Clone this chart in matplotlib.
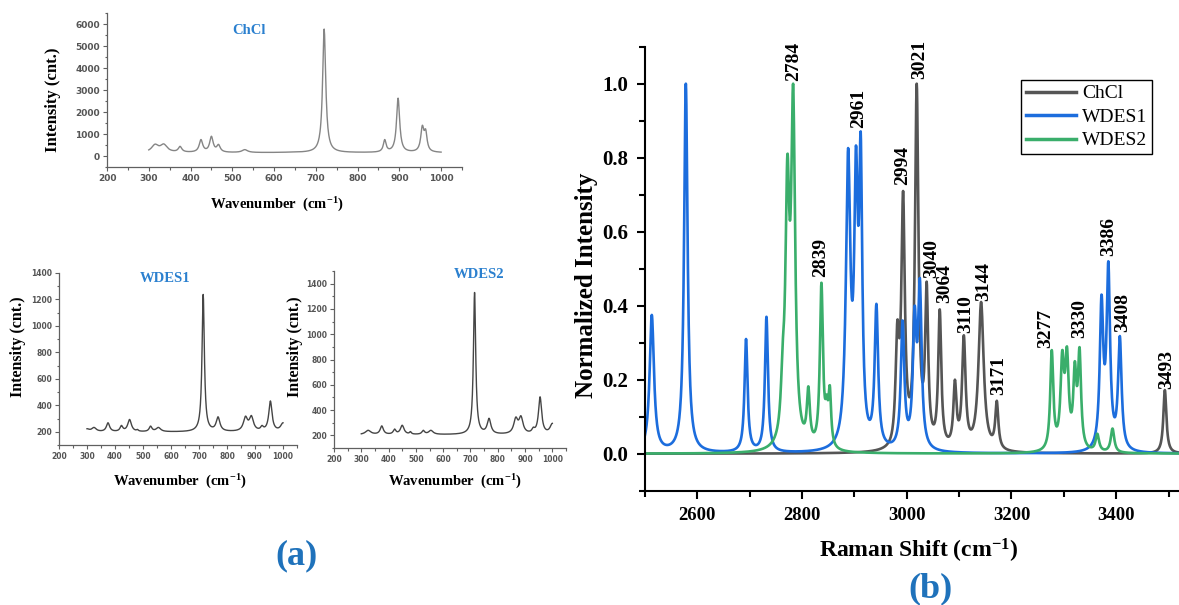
import numpy as np
import matplotlib
matplotlib.use("Agg")
import matplotlib.pyplot as plt
from matplotlib.ticker import MultipleLocator

plt.rcParams['font.family'] = ['Liberation Serif', 'DejaVu Serif']
plt.rcParams['mathtext.fontset'] = 'custom'
plt.rcParams['mathtext.rm'] = 'Liberation Serif'
plt.rcParams['mathtext.bf'] = 'Liberation Serif:bold'
plt.rcParams['mathtext.default'] = 'bf'

# ---------------- data: panel (a) low-wavenumber spectra (peak lists) ----------------
chcl_a_base = 150
chcl_a_centers = [315, 336, 375, 425, 450, 467, 530, 640, 720, 865, 897, 955, 963]
chcl_a_heights = [390, 400, 290, 600, 750, 380, 140, 30, 5620, 600, 2480, 1250, 1080]
chcl_a_widths = [10, 10, 5, 5, 5, 5, 8, 25, 4.5, 4, 4.5, 4.5, 4]

wdes1_a_base = 198
wdes1_a_centers = [300, 325, 375, 423, 452, 480, 527, 555, 715, 768, 866, 887, 925, 955, 1000]
wdes1_a_heights = [25, 35, 70, 50, 95, 20, 45, 35, 1040, 115, 120, 125, 50, 235, 70]
wdes1_a_widths = [10, 10, 7, 6, 8, 4, 6, 10, 5, 8, 9, 9, 6, 7, 10]

wdes2_a_base = 205
wdes2_a_centers = [325, 375, 422, 450, 480, 527, 555, 715, 768, 866, 885, 930, 955, 1000]
wdes2_a_heights = [35, 70, 45, 75, 25, 35, 35, 1125, 130, 140, 150, 60, 300, 90]
wdes2_a_widths = [12, 7, 6, 8, 4, 6, 10, 5, 8, 9, 9, 6, 7, 10]

# ---------------- data: panel (b) normalized spectra (peak lists) ----------------
chcl_b_centers = [2975, 2982, 2993, 3019, 3038, 3063, 3092, 3109, 3142, 3172, 3493]
chcl_b_heights = [0.10, 0.36, 0.71, 1.0, 0.465, 0.39, 0.20, 0.32, 0.41, 0.143, 0.172]
chcl_b_widths = [10, 4, 4, 4, 3.5, 3.5, 3.5, 4, 6, 3.5, 3.5]

wdes1_b_centers = [2513, 2578, 2693, 2732, 2888, 2903, 2912, 2942, 2992, 3015, 3025, 3372, 3385, 3407]
wdes1_b_heights = [0.375, 1.0, 0.31, 0.37, 0.826, 0.833, 0.871, 0.405, 0.36, 0.40, 0.475, 0.43, 0.52, 0.318]
wdes1_b_widths = [5, 4, 3.5, 3.5, 5, 4, 3.5, 4, 4, 4, 4, 4, 4, 4]

wdes2_b_centers = [2763, 2772, 2783, 2812, 2837, 2847, 2853, 3277, 3297, 3306, 3321, 3330, 3364, 3393]
wdes2_b_heights = [0.30, 0.81, 1.0, 0.182, 0.462, 0.16, 0.185, 0.28, 0.28, 0.29, 0.25, 0.288, 0.054, 0.068]
wdes2_b_widths = [4, 4.5, 4.5, 3.5, 3.5, 3, 3, 3.5, 4, 4, 3.5, 3.5, 4, 4]

peak_labels = ['2784', '2961', '2839', '2994', '3021', '3040', '3064', '3110',
               '3144', '3171', '3277', '3330', '3386', '3408', '3493']
peak_label_x = [2783, 2909, 2835.5, 2992, 3025, 3047, 3073, 3113,
                3147, 3176.5, 3266, 3330.5, 3385, 3413, 3497]
peak_label_y = [1.007, 0.881, 0.477, 0.727, 1.012, 0.474, 0.4065, 0.327,
                0.4135, 0.158, 0.287, 0.314, 0.533, 0.33, 0.176]

series_names = ['ChCl', 'WDES1', 'WDES2']


def spectrum(x, centers, heights, widths, base=0.0):
    c = np.asarray(centers, float)
    h = np.asarray(heights, float)
    w = np.asarray(widths, float)
    A = 1.0 / (1.0 + ((c[:, None] - c[None, :]) / w[None, :]) ** 2)
    amp = np.linalg.solve(A, h)
    return base + (amp[None, :] / (1.0 + ((x[:, None] - c[None, :]) / w[None, :]) ** 2)).sum(axis=1)


W, H = 1179, 605
fig = plt.figure(figsize=(W / 100, H / 100), dpi=100)


def px_axes(l, t, r, b):
    return fig.add_axes([l / W, 1 - b / H, (r - l) / W, (b - t) / H])


def ftext(x, y, s, **kw):
    fig.text(x / W, 1 - y / H, s, ha='center', va='center', **kw)


# ---------------- panel (a) ----------------
xa = np.arange(300, 1000.5, 1.0)
title_blue = '#2b80cf'
axis_gray = '#606060'


def style_a(ax, xlim, ylim, ymaj, ymin, fs):
    ax.set_xlim(*xlim)
    ax.set_ylim(*ylim)
    ax.xaxis.set_major_locator(MultipleLocator(100))
    ax.xaxis.set_minor_locator(MultipleLocator(50))
    ax.yaxis.set_major_locator(MultipleLocator(ymaj))
    ax.yaxis.set_minor_locator(MultipleLocator(ymin))
    for s in ['top', 'right']:
        ax.spines[s].set_visible(False)
    for s in ['left', 'bottom']:
        ax.spines[s].set_color(axis_gray)
        ax.spines[s].set_linewidth(0.9)
    ax.tick_params(which='both', direction='out', color=axis_gray, width=0.8)
    ax.tick_params(which='major', length=3)
    ax.tick_params(which='minor', length=1.8)
    ax.tick_params(labelsize=fs, labelcolor='#555555', pad=2)
    for lab in ax.get_xticklabels() + ax.get_yticklabels():
        lab.set_family('DejaVu Sans')
        lab.set_fontweight('bold')


ax1 = px_axes(107, 13, 462, 167)
ax1.plot(xa, spectrum(xa, chcl_a_centers, chcl_a_heights, chcl_a_widths, chcl_a_base),
         color='#858585', lw=1.0)
style_a(ax1, (200, 1050), (-500, 6500), 1000, 500, 6.5)
ax1.set_xticks(np.arange(200, 1001, 100))
ax1.set_yticks(np.arange(0, 6001, 1000))
ftext(249, 30, 'ChCl', color=title_blue, fontsize=10.5, fontweight='bold')
ftext(53, 100, 'Intensity (cnt.)', rotation=90, fontsize=12, fontweight='bold')
ftext(277, 205, r'Wavenumber  (cm$^{-1}$)', fontsize=10.5, fontweight='bold')

ax2 = px_axes(59, 273, 297, 445)
ax2.plot(xa, spectrum(xa, wdes1_a_centers, wdes1_a_heights, wdes1_a_widths, wdes1_a_base),
         color='#454545', lw=1.0)
style_a(ax2, (200, 1050), (100, 1400), 200, 100, 5.5)
ax2.set_xticks(np.arange(200, 1001, 100))
ax2.set_yticks(np.arange(200, 1401, 200))
ftext(165.5, 278, 'WDES1', color=title_blue, fontsize=10.5, fontweight='bold')
ftext(18.5, 347, 'Intensity (cnt.)', rotation=90, fontsize=11.5, fontweight='bold')
ftext(180, 482, r'Wavenumber  (cm$^{-1}$)', fontsize=10.5, fontweight='bold')

ax3 = px_axes(334, 271, 566, 448)
ax3.plot(xa, spectrum(xa, wdes2_a_centers, wdes2_a_heights, wdes2_a_widths, wdes2_a_base),
         color='#454545', lw=1.0)
style_a(ax3, (200, 1050), (100, 1500), 200, 100, 5.5)
ax3.set_xticks(np.arange(200, 1001, 100))
ax3.set_yticks(np.arange(200, 1401, 200))
ftext(479.5, 274, 'WDES2', color=title_blue, fontsize=10.5, fontweight='bold')
ftext(295, 347, 'Intensity (cnt.)', rotation=90, fontsize=11.5, fontweight='bold')
ftext(455, 482, r'Wavenumber  (cm$^{-1}$)', fontsize=10.5, fontweight='bold')

ftext(297, 556, '(a)', color='#1f72bb', fontsize=26, fontweight='bold')

# ---------------- panel (b) ----------------
xb = np.arange(2500, 3521, 0.5)
axb = px_axes(645, 46.7, 1179, 490.7)
colors_b = ['#555555', '#1c6ddd', '#3aae6b']
ys_b = [spectrum(xb, chcl_b_centers, chcl_b_heights, chcl_b_widths),
        spectrum(xb, wdes1_b_centers, wdes1_b_heights, wdes1_b_widths),
        spectrum(xb, wdes2_b_centers, wdes2_b_heights, wdes2_b_widths)]
for name, col, yv in zip(series_names, colors_b, ys_b):
    axb.plot(xb, yv, color=col, lw=1.9, label=name)

axb.set_xlim(2500, 3520)
axb.set_ylim(-0.1, 1.1)
axb.xaxis.set_major_locator(MultipleLocator(200))
axb.xaxis.set_minor_locator(MultipleLocator(100))
axb.set_yticks(np.arange(0, 1.01, 0.2))
axb.yaxis.set_minor_locator(MultipleLocator(0.1))
for s in ['top', 'right']:
    axb.spines[s].set_visible(False)
for s in ['left', 'bottom']:
    axb.spines[s].set_linewidth(1.5)
axb.tick_params(which='both', direction='out', width=1.5)
axb.tick_params(which='major', length=6, pad=6)
axb.tick_params(axis='x', labelsize=13.5)
axb.tick_params(axis='y', labelsize=15)
axb.tick_params(which='minor', length=4)
for lab in axb.get_xticklabels() + axb.get_yticklabels():
    lab.set_fontweight('bold')

for t, x, y in zip(peak_labels, peak_label_x, peak_label_y):
    axb.text(x, y, t, rotation=90, ha='center', va='bottom', fontsize=14,
             fontweight='bold')

leg = axb.legend(loc='upper left', bbox_to_anchor=(0.7036, 0.925), borderaxespad=0,
                 fontsize=14, frameon=True, fancybox=False, framealpha=1,
                 edgecolor='black', handlelength=2.6, handletextpad=0.3,
                 labelspacing=0.3, borderpad=0.25)
leg.get_frame().set_linewidth(1.0)
for ln in leg.get_lines():
    ln.set_linewidth(2.5)

ftext(587, 285, 'Normalized Intensity', rotation=90, fontsize=18, fontweight='bold')
ftext(919, 551, r'Raman Shift (cm$^{-1}$)', fontsize=17, fontweight='bold')
ftext(930, 589, '(b)', color='#1f72bb', fontsize=26, fontweight='bold')

fig.savefig('out.png', dpi=100)
